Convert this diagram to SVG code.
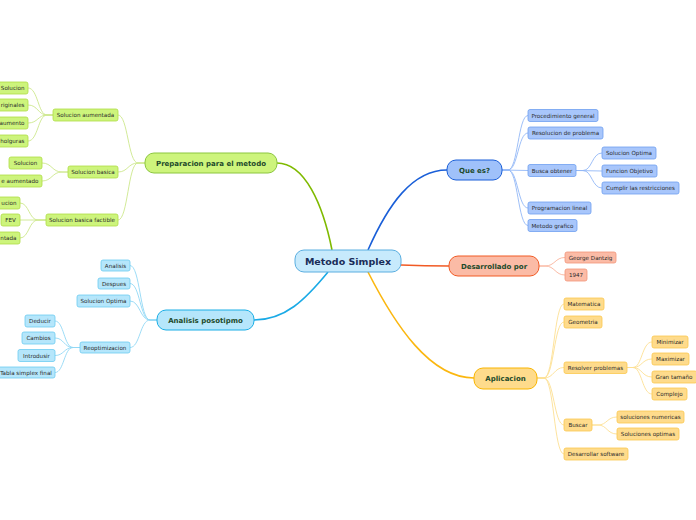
<svg xmlns="http://www.w3.org/2000/svg" width="696" height="520" viewBox="0 0 696 520">
<style>
text{font-family:"DejaVu Sans","Liberation Sans",sans-serif}
.s{font-size:5.6px;fill:#2a2a2a;text-anchor:middle}
.se{font-size:5.6px;fill:#2a2a2a;text-anchor:end}
.m{font-size:7px;font-weight:bold;fill:#1d4a2a;text-anchor:middle}
.c{font-size:9.5px;font-weight:bold;fill:#1a2d58;text-anchor:middle}
.g rect{fill:#cdf47c;stroke:#aedd45;stroke-width:0.8}
.b rect{fill:#a8c6fb;stroke:#6f9ff0;stroke-width:0.8}
.o rect{fill:#fbbba6;stroke:#f3967a;stroke-width:0.8}
.y rect{fill:#fedb8c;stroke:#fbc84e;stroke-width:0.8}
.cy rect{fill:#b5e6fb;stroke:#6ccbf1;stroke-width:0.8}
path{fill:none}
.lg{stroke:#cde88c;stroke-width:0.9}
.lb{stroke:#93b8f6;stroke-width:0.9}
.lo{stroke:#f9b39c;stroke-width:0.9}
.ly{stroke:#fde093;stroke-width:0.9}
.lc{stroke:#92d8f5;stroke-width:0.9}
</style>

<g id="connectors">
  <path d="M332,250 C323,205 305,163 277,163" stroke="#7fba00" stroke-width="1.6"/>
  <path d="M368,250 C388,205 412,170 447,170" stroke="#1a5fd8" stroke-width="1.6"/>
  <path d="M401,265 C425,266 430,266 449,266" stroke="#f15a24" stroke-width="1.6"/>
  <path d="M368,272 C395,325 430,378 474,378" stroke="#fbb710" stroke-width="1.6"/>
  <path d="M328,272 C305,300 285,320 254,320" stroke="#1aaae6" stroke-width="1.6"/>
  <path class="lg" d="M145,163 L138,163 C128,163 128,115 118,115"/>
  <path class="lg" d="M145,163 L138,163 C128,163 128,172 118,172"/>
  <path class="lg" d="M145,163 L138,163 C128,163 128,220 118,220"/>
  <path class="lg" d="M53,115 L47,115 C38,115 38,88 28,88"/>
  <path class="lg" d="M53,115 L47,115 C38,115 38,105 28,105"/>
  <path class="lg" d="M53,115 L47,115 C38,115 38,123 28,123"/>
  <path class="lg" d="M53,115 L47,115 C38,115 38,141 28,141"/>
  <path class="lg" d="M68,172 L62,172 C52,172 52,163 42,163"/>
  <path class="lg" d="M68,172 L62,172 C52,172 52,181 42,181"/>
  <path class="lg" d="M46,220 L38,220 C29,220 29,203 20,203"/>
  <path class="lg" d="M46,220 L20,220"/>
  <path class="lg" d="M46,220 L38,220 C29,220 29,238 20,238"/>
  <path class="lc" d="M157,320 L150,320 C140,320 140,265.5 130,265.5"/>
  <path class="lc" d="M157,320 L150,320 C140,320 140,283.5 130,283.5"/>
  <path class="lc" d="M157,320 L150,320 C140,320 140,301 130,301"/>
  <path class="lc" d="M157,320 L150,320 C140,320 140,347.5 130,347.5"/>
  <path class="lc" d="M80,347.5 L73,347.5 C64,347.5 64,321 55,321"/>
  <path class="lc" d="M80,347.5 L73,347.5 C64,347.5 64,338 55,338"/>
  <path class="lc" d="M80,347.5 L73,347.5 C64,347.5 64,355.5 55,355.5"/>
  <path class="lc" d="M80,347.5 L73,347.5 C64,347.5 64,372.5 55,372.5"/>
  <path class="lb" d="M502,170 L508,170 C518,170 518,115.5 528,115.5"/>
  <path class="lb" d="M502,170 L508,170 C518,170 518,133 528,133"/>
  <path class="lb" d="M502,170 L528,170.5"/>
  <path class="lb" d="M502,170 L508,170 C518,170 518,208 528,208"/>
  <path class="lb" d="M502,170 L508,170 C518,170 518,225.5 528,225.5"/>
  <path class="lb" d="M576,170.5 L583,170.5 C592,170.5 592,153 602,153"/>
  <path class="lb" d="M576,170.5 L602,171"/>
  <path class="lb" d="M576,170.5 L583,170.5 C592,170.5 592,188 602,188"/>
  <path class="lo" d="M539,266 L545,266 C555,266 555,257.5 565,257.5"/>
  <path class="lo" d="M539,266 L545,266 C555,266 555,275 565,275"/>
  <path class="ly" d="M537,378 L544,378 C554,378 554,304 564,304"/>
  <path class="ly" d="M537,378 L544,378 C554,378 554,322 564,322"/>
  <path class="ly" d="M537,378 L544,378 C554,378 554,367.5 564,367.5"/>
  <path class="ly" d="M537,378 L544,378 C554,378 554,425 564,425"/>
  <path class="ly" d="M537,378 L544,378 C554,378 554,454 564,454"/>
  <path class="ly" d="M627,367.5 L633,367.5 C642,367.5 642,342 652,342"/>
  <path class="ly" d="M627,367.5 L633,367.5 C642,367.5 642,359 652,359"/>
  <path class="ly" d="M627,367.5 L633,367.5 C642,367.5 642,377 652,377"/>
  <path class="ly" d="M627,367.5 L633,367.5 C642,367.5 642,394 652,394"/>
  <path class="ly" d="M592,425 L598,425 C607,425 607,417 617,417"/>
  <path class="ly" d="M592,425 L598,425 C607,425 607,434 617,434"/>
</g>

<g id="center">
  <rect x="295" y="250" width="106" height="22" rx="9" fill="#c7eafc" stroke="#5aaee0" stroke-width="1"/>
  <text class="c" x="348" y="264.5">Metodo Simplex</text>
</g>

<g id="preparacion" class="g">
  <rect x="145" y="153" width="132" height="20" rx="9" style="stroke:#8cc63f;stroke-width:1"/>
  <text class="m" x="211" y="165.5">Preparacion para el metodo</text>
</g>
<g id="sol-aumentada" class="g"><rect x="53" y="109" width="65" height="12" rx="2"/><text class="s" x="85.5" y="117">Solucion aumentada</text></g>
<g id="sol-basica" class="g"><rect x="68" y="166" width="50" height="12" rx="2"/><text class="s" x="93" y="174">Solucion basica</text></g>
<g id="sol-basica-factible" class="g"><rect x="46" y="214" width="72" height="12" rx="2"/><text class="s" x="82" y="222">Solucion basica factible</text></g>
<g id="g-solucion1" class="g"><rect x="-10" y="82" width="38" height="12" rx="2"/><text class="se" x="24.5" y="90">Solucion</text></g>
<g id="g-originales" class="g"><rect x="-20" y="99" width="48" height="12" rx="2"/><text class="se" x="24.5" y="107">riginales</text></g>
<g id="g-aumento" class="g"><rect x="-20" y="117" width="48" height="12" rx="2"/><text class="se" x="24.5" y="125">aumento</text></g>
<g id="g-holguras" class="g"><rect x="-20" y="135" width="48" height="12" rx="2"/><text class="se" x="24.5" y="143">holguras</text></g>
<g id="g-solucion2" class="g"><rect x="9" y="157" width="33" height="12" rx="2"/><text class="s" x="25.5" y="165">Solucion</text></g>
<g id="g-aumentado" class="g"><rect x="-20" y="175" width="62" height="12" rx="2"/><text class="se" x="38.5" y="183">e aumentado</text></g>
<g id="g-ucion" class="g"><rect x="-20" y="197" width="40" height="12" rx="2"/><text class="se" x="16.5" y="205">ucion</text></g>
<g id="g-fev" class="g"><rect x="1" y="214" width="19" height="12" rx="2"/><text class="s" x="10.5" y="222">FEV</text></g>
<g id="g-ntada" class="g"><rect x="-20" y="232" width="40" height="12" rx="2"/><text class="se" x="16.5" y="240">ntada</text></g>

<g id="analisis" class="cy">
  <rect x="157" y="310" width="97" height="20" rx="9" style="stroke:#1aaee6;stroke-width:1"/>
  <text class="m" x="205.5" y="322.5">Analisis posotipmo</text>
</g>
<g id="c-analisis" class="cy"><rect x="101" y="260" width="29" height="11" rx="2"/><text class="s" x="115.5" y="267.5">Analisis</text></g>
<g id="c-despues" class="cy"><rect x="98" y="278" width="32" height="11" rx="2"/><text class="s" x="114" y="285.5">Despues</text></g>
<g id="c-solopt" class="cy"><rect x="77" y="295" width="53" height="12" rx="2"/><text class="s" x="103.5" y="303">Solucion Optima</text></g>
<g id="c-reopt" class="cy"><rect x="80" y="342" width="50" height="11" rx="2"/><text class="s" x="105" y="349.5">Reoptimizacion</text></g>
<g id="c-deducir" class="cy"><rect x="25" y="315" width="30" height="12" rx="2"/><text class="s" x="40" y="323">Deducir</text></g>
<g id="c-cambios" class="cy"><rect x="22" y="332" width="33" height="12" rx="2"/><text class="s" x="38.5" y="340">Cambios</text></g>
<g id="c-introdusir" class="cy"><rect x="18" y="349.5" width="37" height="12" rx="2"/><text class="s" x="36.5" y="357.5">Introdusir</text></g>
<g id="c-tabla" class="cy"><rect x="-3" y="367" width="58" height="11" rx="2"/><text class="s" x="26" y="374.5">Tabla simplex final</text></g>

<g id="quees" class="b">
  <rect x="447" y="160" width="55" height="20" rx="9" style="fill:#9fc1fa;stroke:#1a5fd8;stroke-width:1"/>
  <text class="m" x="474.5" y="172.5">Que es?</text>
</g>
<g id="b-proc" class="b"><rect x="528" y="109.5" width="70" height="12" rx="2"/><text class="s" x="563" y="117.5">Procedimiento general</text></g>
<g id="b-resol" class="b"><rect x="528" y="127" width="75" height="12" rx="2"/><text class="s" x="565.5" y="135">Resolucion de problema</text></g>
<g id="b-busca" class="b"><rect x="528" y="164.5" width="48" height="12" rx="2"/><text class="s" x="552" y="172.5">Busca obtener</text></g>
<g id="b-solopt" class="b"><rect x="602" y="147" width="54" height="12" rx="2"/><text class="s" x="629" y="155">Solucion Optima</text></g>
<g id="b-func" class="b"><rect x="602" y="165" width="55" height="12" rx="2"/><text class="s" x="629.5" y="173">Funcion Objetivo</text></g>
<g id="b-cumplir" class="b"><rect x="602" y="182" width="77" height="12" rx="2"/><text class="s" x="640.5" y="190">Cumplir las restricciones</text></g>
<g id="b-prog" class="b"><rect x="528" y="202" width="63" height="12" rx="2"/><text class="s" x="559.5" y="210">Programacion lineal</text></g>
<g id="b-metodo" class="b"><rect x="528" y="219.5" width="49" height="12" rx="2"/><text class="s" x="552.5" y="227.5">Metodo grafico</text></g>

<g id="desarrollado" class="o">
  <rect x="449" y="256" width="90" height="20" rx="9" style="stroke:#f15a24;stroke-width:1"/>
  <text class="m" x="494" y="268.5">Desarrollado por</text>
</g>
<g id="o-george" class="o"><rect x="565" y="252" width="51" height="11" rx="2"/><text class="s" x="590.5" y="259.5">George Dantzig</text></g>
<g id="o-1947" class="o"><rect x="565" y="269" width="22" height="12" rx="2"/><text class="s" x="576" y="277">1947</text></g>

<g id="aplicacion" class="y">
  <rect x="474" y="368" width="63" height="21" rx="9" style="stroke:#f9b500;stroke-width:1"/>
  <text class="m" x="505.5" y="381">Aplicacion</text>
</g>
<g id="y-mat" class="y"><rect x="564" y="298" width="40" height="12" rx="2"/><text class="s" x="584" y="306">Matematica</text></g>
<g id="y-geo" class="y"><rect x="564" y="316" width="38" height="12" rx="2"/><text class="s" x="583" y="324">Geometria</text></g>
<g id="y-resolver" class="y"><rect x="564" y="362" width="63" height="11.5" rx="2"/><text class="s" x="595.5" y="369.8">Resolver problemas</text></g>
<g id="y-min" class="y"><rect x="652" y="336" width="36" height="12" rx="2"/><text class="s" x="670" y="344">Minimizar</text></g>
<g id="y-max" class="y"><rect x="652" y="353" width="37" height="12" rx="2"/><text class="s" x="670.5" y="361">Maximizar</text></g>
<g id="y-gran" class="y"><rect x="652" y="371" width="45" height="12" rx="2"/><text class="s" x="674" y="379">Gran tamaño</text></g>
<g id="y-comp" class="y"><rect x="652" y="388" width="35" height="12" rx="2"/><text class="s" x="669.5" y="396">Complejo</text></g>
<g id="y-buscar" class="y"><rect x="564" y="419" width="28" height="12" rx="2"/><text class="s" x="578" y="427">Buscar</text></g>
<g id="y-solnum" class="y"><rect x="617" y="411" width="67" height="12" rx="2"/><text class="s" x="650.5" y="419">soluciones numericas</text></g>
<g id="y-solopt" class="y"><rect x="617" y="428" width="62" height="12" rx="2"/><text class="s" x="648" y="436">Soluciones optimas</text></g>
<g id="y-soft" class="y"><rect x="564" y="448" width="64" height="12" rx="2"/><text class="s" x="596" y="456">Desarrollar software</text></g>
</svg>
